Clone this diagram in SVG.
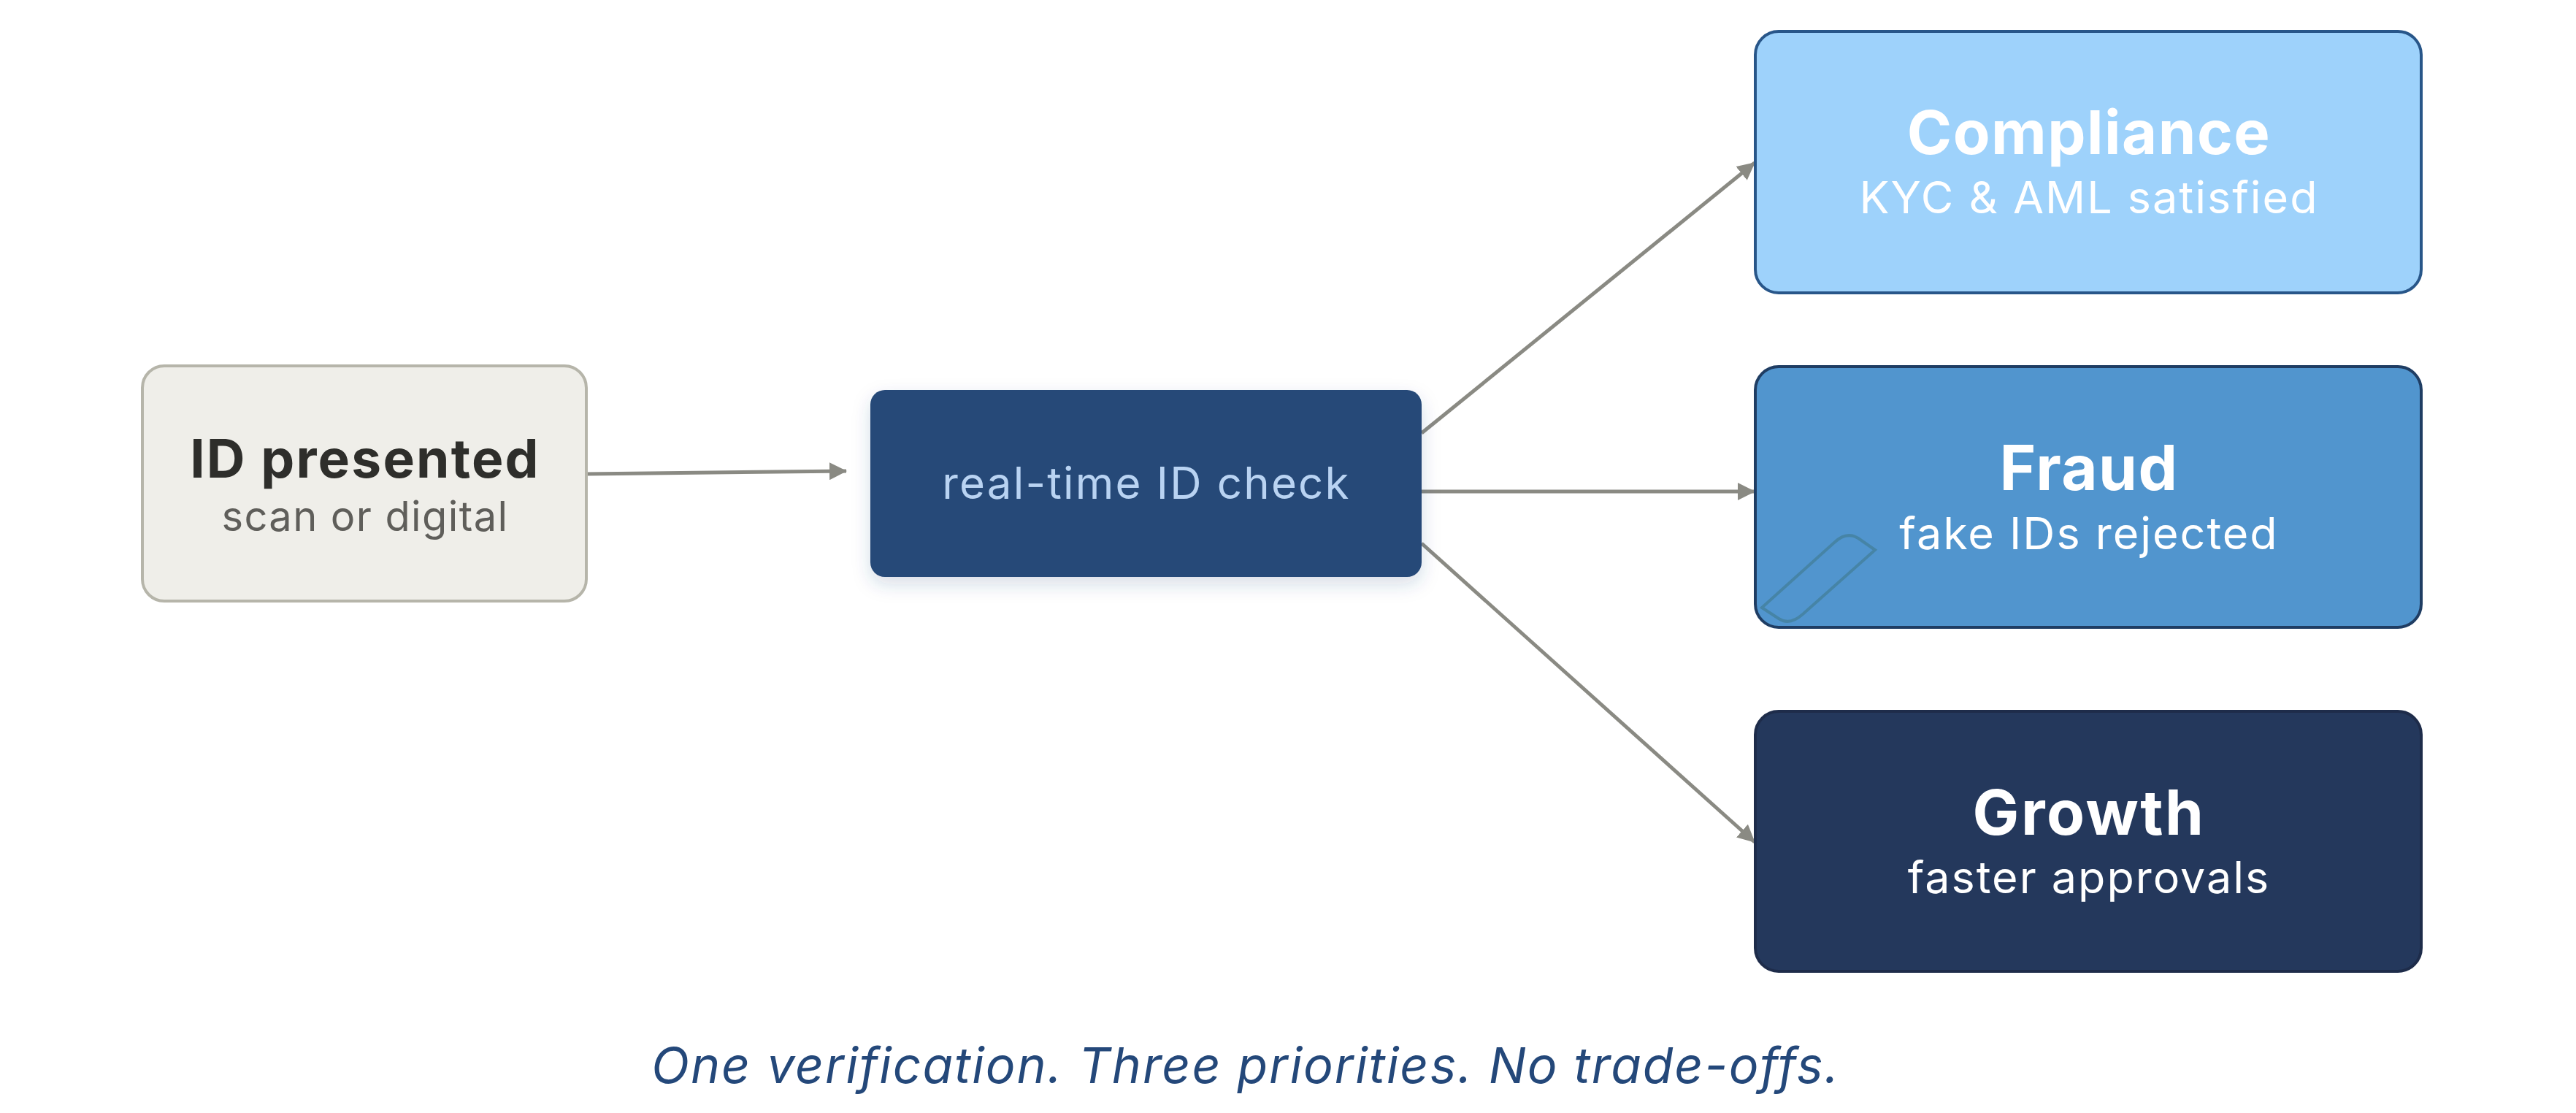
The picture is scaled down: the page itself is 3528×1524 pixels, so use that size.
<svg xmlns="http://www.w3.org/2000/svg" width="3528" height="1524" viewBox="0 0 3528 1524">
<defs>
<style>
.bg{fill:#FFFFFF}
.title{font-family:Inter,"Noto Sans","Liberation Sans",sans-serif;font-weight:700;text-anchor:middle}
.sub{font-family:Inter,"Noto Sans","Liberation Sans",sans-serif;font-weight:400;text-anchor:middle}
.conn{stroke:#8A8A83;stroke-width:5;fill:none;marker-end:url(#arr)}
.cap{font-family:Inter,"Noto Sans","Liberation Sans",sans-serif;font-style:italic;font-weight:400;fill:#24487A;text-anchor:middle}
</style>
<marker id="arr" markerUnits="userSpaceOnUse" markerWidth="24" markerHeight="24" refX="23" refY="12" orient="auto">
<path d="M0,0 L24,12 L0,24 z" fill="#8A8A83"/>
</marker>
<filter id="shadow" x="-10%" y="-20%" width="120%" height="150%">
<feDropShadow dx="0" dy="10" stdDeviation="12" flood-color="#24487A" flood-opacity="0.18"/>
</filter>
</defs>
<rect class="bg" x="0" y="0" width="3528" height="1524"/>
<g id="connectors">
<line class="conn" x1="803" y1="649" x2="1159" y2="645"/>
<line class="conn" x1="1947" y1="593" x2="2403" y2="223"/>
<line class="conn" x1="1947" y1="673" x2="2403" y2="673"/>
<line class="conn" x1="1947" y1="744" x2="2403" y2="1153"/>
</g>
<g id="node-id-presented">
<rect x="195" y="501" width="608" height="322" rx="30" fill="#EFEEE9" stroke="#B6B5AA" stroke-width="4"/>
<text class="title" x="500" y="654" font-size="73" letter-spacing="2.2" fill="#2E2E2B">ID presented</text>
<text class="sub" x="500" y="727" font-size="56" letter-spacing="1.4" fill="#5F5E5A">scan or digital</text>
</g>
<g id="node-realtime">
<rect x="1192" y="534" width="755" height="256" rx="20" fill="#254878" filter="url(#shadow)"/>
<text class="sub" x="1570" y="683" font-size="60" letter-spacing="2.2" fill="#B9D3F2">real-time ID check</text>
</g>
<g id="node-compliance">
<rect x="2404" y="43" width="912" height="358" rx="32" fill="#9ED2FB" stroke="#285689" stroke-width="4"/>
<text class="title" x="2861" y="211" font-size="83" letter-spacing="1.5" fill="#FFFFFF">Compliance</text>
<text class="sub" x="2861" y="292" font-size="61" letter-spacing="2" fill="#FFFFFF">KYC &amp; AML satisfied</text>
</g>
<g id="node-fraud">
<rect x="2404" y="502" width="912" height="357" rx="32" fill="#5195CE" stroke="#1F3D63" stroke-width="4"/>
<path d="M2413,832 L2436,847 Q2451,857 2469,841 L2568,753 L2545,737 Q2529,727 2512,743 Z" fill="none" stroke="#4684A6" stroke-width="4"/>
<text class="title" x="2861" y="671" font-size="85" letter-spacing="1.5" fill="#FFFFFF">Fraud</text>
<text class="sub" x="2861" y="752" font-size="61" letter-spacing="2" fill="#FFFFFF">fake IDs rejected</text>
</g>
<g id="node-growth">
<rect x="2404" y="974" width="912" height="356" rx="32" fill="#24385C" stroke="#1E2C4A" stroke-width="4"/>
<text class="title" x="2861" y="1143" font-size="85" letter-spacing="2.5" fill="#FFFFFF">Growth</text>
<text class="sub" x="2861" y="1223" font-size="61" letter-spacing="2" fill="#FFFFFF">faster approvals</text>
</g>
<text class="cap" x="1706" y="1483" font-size="68" letter-spacing="1.9">One verification. Three priorities. No trade-offs.</text>
</svg>
